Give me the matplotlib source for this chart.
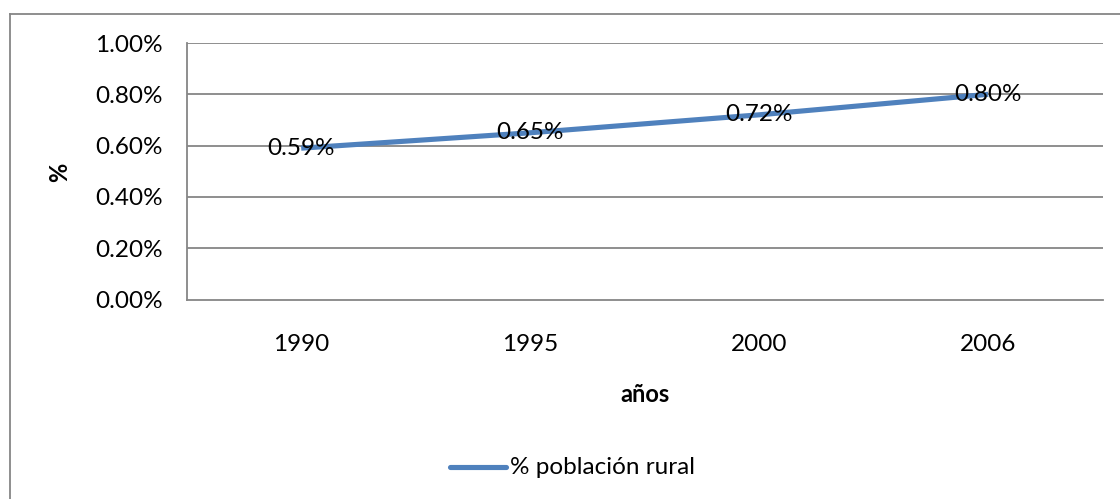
import matplotlib
matplotlib.use("Agg")
import matplotlib.pyplot as plt
from matplotlib.lines import Line2D
from matplotlib.ticker import FuncFormatter

years = ["1990", "1995", "2000", "2006"]
values = [0.59, 0.65, 0.72, 0.80]
series_name = "% población rural"
y_ticks = [0.0, 0.2, 0.4, 0.6, 0.8, 1.0]

plt.rcParams['font.family'] = ['Lato', 'DejaVu Sans']

W, H = 1120, 499
fig = plt.figure(figsize=(W / 100, H / 100), dpi=100)
left, right, top, bottom = 186.7, 1102.7, 43, 299.5
ax = fig.add_axes([left / W, 1 - bottom / H, (right - left) / W, (bottom - top) / H])

grid_c = "#868686"
line_c = "#4F81BD"
FS = 17.5
x = list(range(len(years)))
ax.plot(x, values, color=line_c, lw=3.7, solid_capstyle="butt", zorder=3)
for xi, v in zip(x, values):
    ax.text(xi, v, f"{v:.2f}%", ha="center", va="center", fontsize=FS, color="black", zorder=4)

ax.set_xlim(-0.5, len(years) - 0.5)
ax.set_ylim(0, 1.0)
ax.set_yticks(y_ticks)
ax.yaxis.set_major_formatter(FuncFormatter(lambda v, p: f"{v:.2f}%"))
ax.set_xticks(x)
ax.set_xticklabels(years)
ax.tick_params(axis="both", length=0, labelsize=FS, colors="black")
ax.tick_params(axis="y", pad=17)
ax.tick_params(axis="x", pad=25)
for yv in y_ticks[1:]:
    ax.axhline(yv, color=grid_c, lw=1.3, zorder=1)
for s in ["top", "right"]:
    ax.spines[s].set_visible(False)
for s in ["left", "bottom"]:
    ax.spines[s].set_color(grid_c)
    ax.spines[s].set_linewidth(1.3)

fig.text(645 / W, 1 - 395 / H, "años", ha="center", va="center", fontsize=17, fontweight="bold")
fig.text(60 / W, 1 - 172 / H, "%", ha="center", va="center", fontsize=17, fontweight="bold", rotation=90)

# legend
fig.add_artist(Line2D([450 / W, 506 / W], [1 - 467 / H] * 2, color=line_c, lw=3.7, solid_capstyle="round"))
fig.text(510 / W, 1 - 467 / H, series_name, ha="left", va="center", fontsize=FS)

# outer chart frame (left and top edges visible)
fig.add_artist(Line2D([9.5 / W, 9.5 / W], [0, 1 - 13.5 / H], color=grid_c, lw=1.3))
fig.add_artist(Line2D([9.5 / W, 1], [1 - 13.5 / H] * 2, color=grid_c, lw=1.3))

fig.savefig("out.png", dpi=100)
